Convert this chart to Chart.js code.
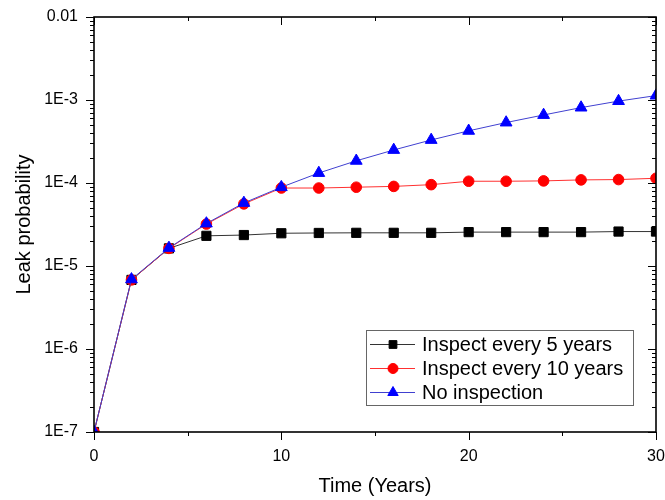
<!DOCTYPE html>
<html><head><meta charset="utf-8">
<script src="https://cdn.jsdelivr.net/npm/chart.js@4/dist/chart.umd.min.js"></script>
<style>html,body{margin:0;padding:0;background:#fff}#wrap{width:665px;height:500px}</style>
</head><body><div id="wrap"><canvas id="c" width="665" height="500"></canvas></div>
<script>
// ---- data ----
const years = [0, 2, 4, 6, 8, 10, 12, 14, 16, 18, 20, 22, 24, 26, 28, 30];
const inspectEvery5 = [1e-7, 6.8e-6, 1.63e-5, 2.31e-5, 2.36e-5, 2.48e-5, 2.5e-5, 2.51e-5, 2.51e-5, 2.51e-5, 2.56e-5, 2.56e-5, 2.56e-5, 2.56e-5, 2.6e-5, 2.6e-5];
const inspectEvery10 = [1e-7, 6.8e-6, 1.63e-5, 3.2e-5, 5.6e-5, 8.7e-5, 8.7e-5, 8.9e-5, 9.1e-5, 9.55e-5, 1.05e-4, 1.05e-4, 1.06e-4, 1.09e-4, 1.1e-4, 1.14e-4];
const noInspection = [1e-7, 6.9e-6, 1.65e-5, 3.25e-5, 5.75e-5, 8.9e-5, 1.32e-4, 1.85e-4, 2.5e-4, 3.3e-4, 4.25e-4, 5.35e-4, 6.6e-4, 8.1e-4, 9.7e-4, 1.13e-3];
const seriesNames = ['Inspect every 5 years', 'Inspect every 10 years', 'No inspection'];
const yTickValues = [1e-7, 1e-6, 1e-5, 1e-4, 1e-3, 1e-2];
const yTickLabels = ['1E-7', '1E-6', '1E-5', '1E-4', '1E-3', '0.01'];
const xTickValues = [0, 5, 10, 15, 20, 25, 30];
const xTickLabels = ['0', '', '10', '', '20', '', '30'];
const xTitle = 'Time (Years)';
const yTitle = 'Leak probability';

const FONT = "'Liberation Sans', Arial, Helvetica, sans-serif";
const pts = arr => years.map((x, i) => ({x: x, y: arr[i]}));

const framePlugin = {
  id: 'frame',
  afterDraw(chart) {
    const ctx = chart.ctx, a = chart.chartArea;
    const xs = chart.scales.x, ys = chart.scales.y;
    ctx.save();
    ctx.strokeStyle = '#000';
    ctx.lineWidth = 1;
    ctx.beginPath();
    const lo = Math.log10(yTickValues[0]), hi = Math.log10(yTickValues[yTickValues.length - 1]);
    for (let d = lo; d <= hi; d++) {
      for (let k = 1; k <= 9; k++) {
        const v = k * Math.pow(10, d);
        if (v > yTickValues[yTickValues.length - 1] * 1.0001) break;
        const py = Math.round(ys.getPixelForValue(v)) + 0.5;
        const len = k === 1 ? 8 : 4;
        ctx.moveTo(a.left - len, py); ctx.lineTo(a.left, py);
        ctx.moveTo(a.right - len, py); ctx.lineTo(a.right, py);
      }
    }
    xTickValues.forEach((v, i) => {
      const px = Math.round(xs.getPixelForValue(v)) + 0.5;
      const len = xTickLabels[i] !== '' ? 8 : 4;
      ctx.moveTo(px, a.bottom); ctx.lineTo(px, a.bottom + len);
      ctx.moveTo(px, a.top); ctx.lineTo(px, a.top + len);
    });
    ctx.stroke();
    ctx.lineWidth = 1.6;
    ctx.strokeRect(a.left, a.top, a.right - a.left, a.bottom - a.top);

    // legend
    const bx = 366, by = 330, bw = 267, bh = 75;
    ctx.fillStyle = '#fff';
    ctx.fillRect(bx, by, bw, bh);
    ctx.lineWidth = 1;
    ctx.strokeStyle = '#666';
    ctx.strokeRect(bx + 0.5, by + 0.5, bw, bh);
    chart.data.datasets.forEach((ds, i) => {
      const cy = by + 14 + i * 24;
      ctx.strokeStyle = ds.borderColor;
      ctx.lineWidth = 1;
      ctx.beginPath();
      ctx.moveTo(bx + 4, cy + 0.5); ctx.lineTo(bx + 49, cy + 0.5);
      ctx.stroke();
      ctx.fillStyle = ds.pointBackgroundColor;
      ctx.strokeStyle = ds.pointBorderColor;
      Chart.helpers.drawPoint(ctx, {pointStyle: ds.pointStyle, radius: ds.legendRadius, rotation: 0, borderWidth: 1}, bx + 27, cy + 0.5);
      ctx.fillStyle = '#000';
      ctx.font = '20px ' + FONT;
      ctx.textBaseline = 'middle';
      ctx.textAlign = 'left';
      ctx.fillText(ds.label, bx + 56, cy + 1);
    });
    ctx.restore();
  }
};

const hiddenTicks = {display: true, drawOnChartArea: false, drawTicks: true, tickColor: 'rgba(0,0,0,0)'};

new Chart(document.getElementById('c'), {
  type: 'line',
  data: {
    datasets: [
      {label: seriesNames[0], data: pts(inspectEvery5), borderColor: '#333333', borderWidth: 1,
       pointStyle: 'rect', pointRadius: 6.5, pointBackgroundColor: '#000', pointBorderColor: '#000', pointBorderWidth: 1, legendRadius: 5.5, order: 3},
      {label: seriesNames[1], data: pts(inspectEvery10), borderColor: '#ff3030', borderWidth: 1,
       pointStyle: 'circle', pointRadius: 5.3, pointBackgroundColor: '#ff0000', pointBorderColor: '#ff0000', pointBorderWidth: 1, legendRadius: 5, order: 2},
      {label: seriesNames[2], data: pts(noInspection), borderColor: '#4040d0', borderWidth: 1,
       pointStyle: 'triangle', pointRadius: 6.8, pointBackgroundColor: '#0000ff', pointBorderColor: '#0000ff', pointBorderWidth: 1, legendRadius: 6, order: 1}
    ]
  },
  options: {
    responsive: false,
    animation: false,
    devicePixelRatio: 1,
    layout: {padding: {left: 0, right: 9, top: 17, bottom: 0}},
    plugins: {legend: {display: false}, tooltip: {enabled: false}, title: {display: false}},
    elements: {line: {tension: 0}},
    scales: {
      x: {
        type: 'linear', min: 0, max: 30,
        afterBuildTicks: s => { s.ticks = xTickValues.map(v => ({value: v})); },
        afterFit: s => { s.height = 68; },
        grid: Object.assign({tickLength: 15}, hiddenTicks),
        border: {display: false},
        ticks: {autoSkip: false, maxRotation: 0, padding: 0, color: '#000', font: {family: FONT, size: 16},
                callback: (v, i) => xTickLabels[i]},
        title: {display: true, text: xTitle, color: '#000', font: {family: FONT, size: 20, lineHeight: 1.2}, padding: {top: 0, bottom: 2}}
      },
      y: {
        type: 'logarithmic', min: yTickValues[0], max: yTickValues[yTickValues.length - 1],
        afterBuildTicks: s => { s.ticks = yTickValues.map(v => ({value: v, major: true})); },
        afterFit: s => { s.width = 94; },
        grid: Object.assign({tickLength: 16}, hiddenTicks),
        border: {display: false},
        ticks: {autoSkip: false, padding: 0, color: '#000', font: {family: FONT, size: 16},
                callback: (v, i) => yTickLabels[i]},
        title: {display: true, text: yTitle, color: '#000', font: {family: FONT, size: 20, lineHeight: 1.2}, padding: {top: 12, bottom: 0}}
      }
    }
  },
  plugins: [framePlugin]
});
</script></body></html>
